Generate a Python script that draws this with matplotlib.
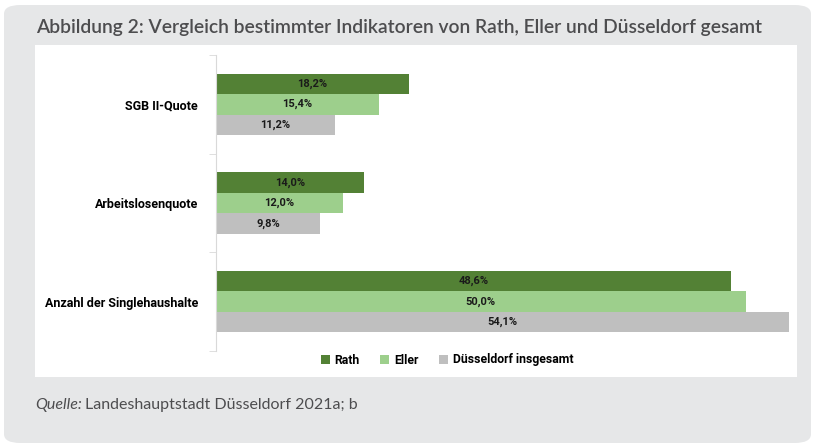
import matplotlib
matplotlib.use("Agg")
import matplotlib.pyplot as plt
from matplotlib.patches import FancyBboxPatch, Rectangle, Patch
import numpy as np

categories = ["SGB II-Quote", "Arbeitslosenquote", "Anzahl der Singlehaushalte"]
series = ["Rath", "Eller", "Düsseldorf insgesamt"]
rath = [18.2, 14.0, 48.6]
eller = [15.4, 12.0, 50.0]
duesseldorf = [11.2, 9.8, 54.1]
colors = ["#538135", "#9dcf8c", "#bfbfbf"]

title = "Abbildung 2: Vergleich bestimmter Indikatoren von Rath, Eller und Düsseldorf gesamt"

NARROW = ["Roboto", "DejaVu Sans"]
HEAD = ["Lato", "DejaVu Sans"]

W, H = 818, 447
fig = plt.figure(figsize=(W / 100, H / 100), dpi=100)
fig.patch.set_facecolor("white")


def fit(t, target):
    # scale a text's font size so it spans about target pixels
    fig.canvas.draw()
    w = t.get_window_extent().width
    t.set_fontsize(t.get_fontsize() * target / w)


# grey panel + white chart box
fig.patches.append(FancyBboxPatch((4 / W, 4 / H), 807 / W, 438 / H,
                                  boxstyle="round,pad=0,rounding_size=0.02",
                                  transform=fig.transFigure, facecolor="#e6e7e8",
                                  edgecolor="none", zorder=0))
fig.patches.append(Rectangle((35 / W, (H - 377) / H), 762 / W, 332 / H,
                             transform=fig.transFigure, facecolor="white",
                             edgecolor="none", zorder=1))

ax = fig.add_axes([216 / W, (H - 351) / H, (789 - 216) / W, 296 / H])
ax.set_zorder(2)
ax.patch.set_alpha(0)

h = 0.208
y = np.arange(len(categories))
for i, (vals, c) in enumerate(zip([rath, eller, duesseldorf], colors)):
    bars = ax.barh(y + (i - 1) * h, vals, height=h, color=c, label=series[i])
    for b, v in zip(bars, vals):
        ax.text(v / 2, b.get_y() + h / 2, f"{v:.1f}%".replace(".", ","),
                ha="center", va="center", fontsize=8, fontweight="bold",
                color="#1a1a1a", family=NARROW)

ax.set_xlim(0, 54.1)
ax.set_ylim(2.5, -0.5)
ax.set_xticks([])
ax.set_yticks(y)
ax.set_yticklabels(categories, fontsize=9, fontweight="bold", family=NARROW)
ax.set_yticks([-0.5, 0.5, 1.5, 2.5], minor=True)
ax.tick_params(axis="y", which="major", length=0, pad=13)
ax.tick_params(axis="y", which="minor", length=5, color="#d9d9d9")
for s in ["top", "right", "bottom"]:
    ax.spines[s].set_visible(False)
ax.spines["left"].set_color("#d9d9d9")

handles = [Patch(facecolor=c, edgecolor="none") for c in colors]
fig.legend(handles, series, loc="center", bbox_to_anchor=(447 / W, (H - 360) / H),
           ncol=3, frameon=False, handlelength=0.7, handleheight=0.7,
           handletextpad=0.4, columnspacing=1.7,
           prop={"family": NARROW, "weight": "bold", "size": 8.8})

tt = fig.text(36 / W, (H - 27) / H, title, ha="left", va="center", fontsize=12.5,
              fontweight="semibold", color="#4d4d4f", family=HEAD)
fit(tt, 729)

t1 = fig.text(35 / W, (H - 405) / H, "Quelle:", ha="left", va="center",
              fontsize=11.5, style="italic", color="#4d4d4f", family=HEAD)
fig.canvas.draw()
bb = t1.get_window_extent()
fig.text((bb.x1 + 3) / W, (H - 405) / H, "Landeshauptstadt Düsseldorf 2021a; b",
         ha="left", va="center", fontsize=11.5, color="#4d4d4f", family=HEAD)

fig.savefig("out.png", dpi=100, facecolor="white")
